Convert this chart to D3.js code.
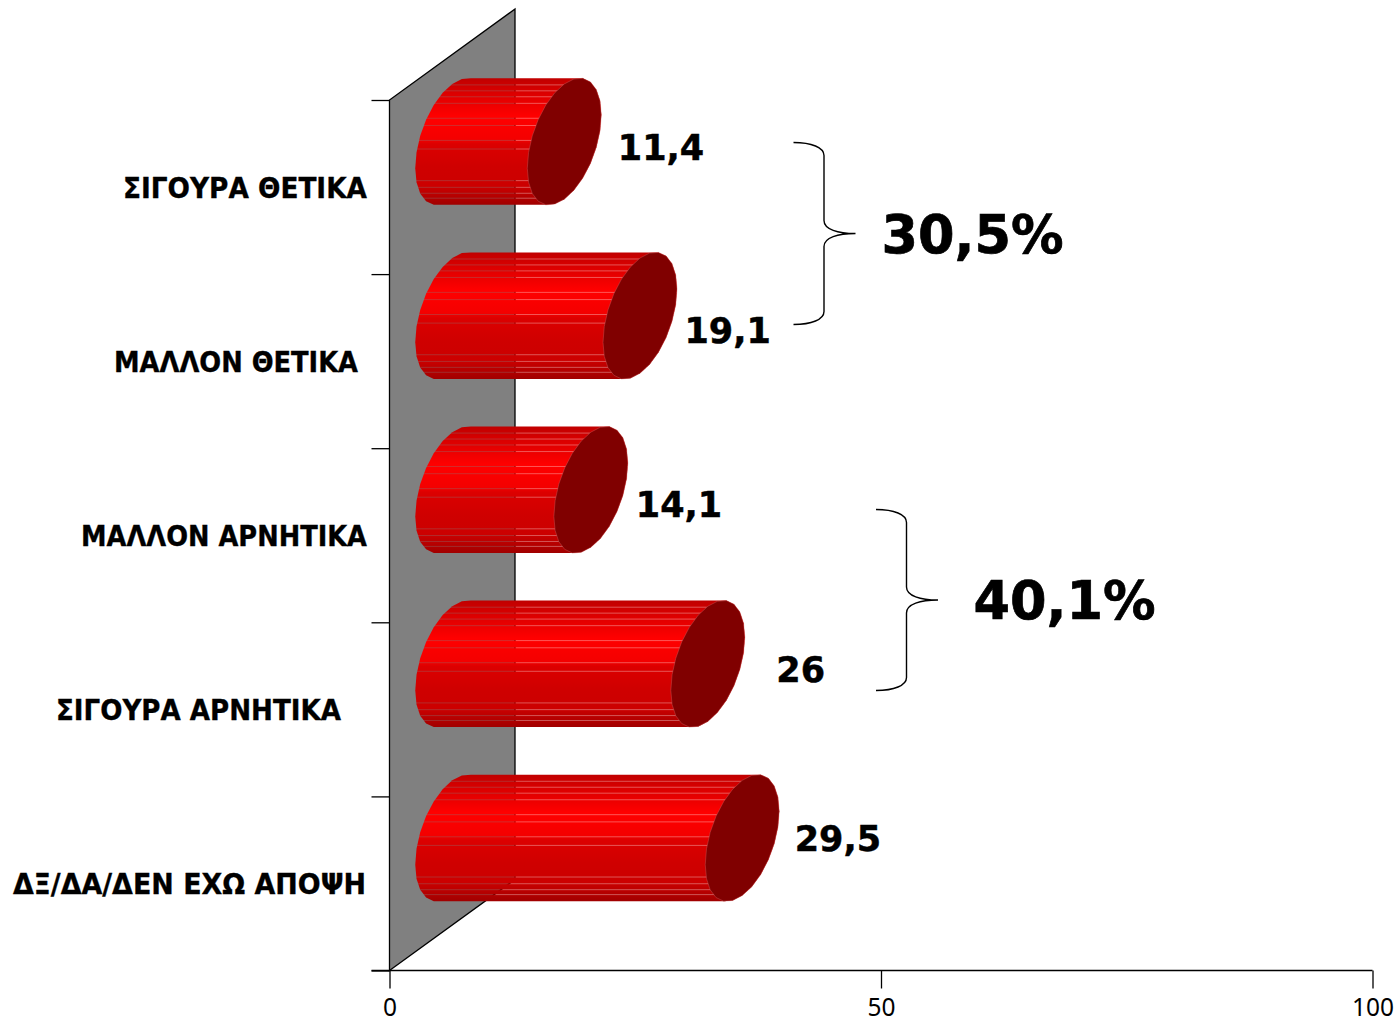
<!DOCTYPE html>
<html><head><meta charset="utf-8">
<script src="https://cdn.jsdelivr.net/npm/d3@7"></script>
<style>html,body{margin:0;padding:0;background:#fff}svg{display:block;font-family:"DejaVu Sans",sans-serif}</style>
</head><body><svg id="c" width="1396" height="1019"></svg>
<script>
const categories = ["ΣΙΓΟΥΡΑ ΘΕΤΙΚΑ","ΜΑΛΛΟΝ ΘΕΤΙΚΑ","ΜΑΛΛΟΝ ΑΡΝΗΤΙΚΑ","ΣΙΓΟΥΡΑ ΑΡΝΗΤΙΚΑ","ΔΞ/ΔΑ/ΔΕΝ ΕΧΩ ΑΠΟΨΗ"];
const values = [11.4,19.1,14.1,26,29.5];
const valueLabels = ["11,4","19,1","14,1","26","29,5"];
const xTicks = [0,50,100];
const groupLabels = ["30,5%","40,1%"];

const svg = d3.select("#c");
const defs = svg.append("defs");
const x = d3.scaleLinear().domain([0,100]).range([389.5,1372.5]);
const y = d3.scaleBand().domain(categories).range([100,970.5]);
const depth = {dx:125.5, dy:-91};
const ticksY = d3.scaleLinear().domain([0,5]).range([100,970.5]);
const y0 = y.range()[0], y1 = y.range()[1];

// wall
svg.append("path").attr("fill","#808080").attr("stroke","#000").attr("stroke-width",1.3)
  .attr("d",d3.line()([[x(0),y1],[x(0),y0],[x(0)+depth.dx,y0+depth.dy],[x(0)+depth.dx,y1+depth.dy]])+"Z");

// axes
const gx = svg.append("g").attr("transform",`translate(0,${y1})`)
  .call(d3.axisBottom(x).tickValues(xTicks).tickSize(18).tickPadding(10));
gx.selectAll("text").attr("font-size",24.5).attr("font-family","Noto Sans").attr("fill","#000");
gx.select(".domain").attr("d",`M${x(0)-18},0H${x(100)}`).attr("stroke-width",1.3);
gx.selectAll("line").attr("stroke-width",1.3);
const gy = svg.append("g").attr("transform",`translate(${x(0)},0)`)
  .call(d3.axisLeft(ticksY).ticks(5).tickSize(18).tickFormat(""));
gy.select(".domain").remove();
gy.selectAll("line").attr("stroke-width",1.3);

// category labels
const labelStart = [123,114,81,56,13];
const labelWidth = [244,244,286,285,353];
svg.append("g").selectAll("text").data(categories).join("text")
  .attr("x",(d,i)=>labelStart[i]).attr("y",d=>y(d)+y.bandwidth()/2+11)
  .attr("textLength",(d,i)=>labelWidth[i]).attr("lengthAdjust","spacingAndGlyphs")
  .attr("font-weight","bold").attr("font-size",27.5).attr("stroke","#000").attr("stroke-width",.35).text(d=>d);

// gradient
const grad = defs.append("linearGradient").attr("id","cyl").attr("x1",0).attr("x2",0).attr("y1",0).attr("y2",1);
[[0,"#c00000"],[.1,"#d80000"],[.3,"#ff0000"],[.48,"#f40000"],[.52,"#dc0000"],[.7,"#cf0000"],[.85,"#cc0000"],[.95,"#b00000"],[1,"#a00000"]]
 .forEach(s=>grad.append("stop").attr("offset",s[0]).attr("stop-color",s[1]));

// cylinders
const halfH = 57.6, halfDx = 37, halfDy = -26.7;
const stripeFracs = [.052,.099,.146,.198,.316,.373,.491,.559,.809,.862,.909,.948];
const labelOffsets = [[16.5,5.5],[7.5,14.5],[8,14.5],[31.5,5.5],[15.5,.5]];
function ring(cx,cy){
  return d3.range(24).map(i=>{const t=i/24*2*Math.PI;
    return [cx+halfDx*Math.cos(t), cy+halfDy*Math.cos(t)+halfH*Math.sin(t)];});
}
const bars = svg.append("g");
values.forEach((v,i)=>{
  const cy = y(categories[i])+y.bandwidth()/2+depth.dy/2;
  const cx0 = x(0)+depth.dx/2, cx1 = x(v)+depth.dx/2;
  const hull = d3.polygonHull(ring(cx0,cy).concat(ring(cx1,cy)));
  const hullPath = d3.line()(hull)+"Z";
  const ys = hull.map(p=>p[1]), top=d3.min(ys), bot=d3.max(ys);
  const m = defs.append("mask").attr("id","m"+i).attr("maskUnits","userSpaceOnUse")
    .attr("x",cx0-60).attr("y",top-5).attr("width",cx1-cx0+120).attr("height",bot-top+10);
  m.append("rect").attr("x",cx0-60).attr("y",top-5).attr("width",cx1-cx0+120).attr("height",bot-top+10).attr("fill","#fff");
  m.selectAll("line").data(stripeFracs).join("line")
    .attr("x1",cx0-60).attr("x2",cx1+60)
    .attr("y1",f=>top+f*(bot-top)).attr("y2",f=>top+f*(bot-top))
    .attr("stroke","#aaa").attr("stroke-width",1);
  const g = bars.append("g");
  g.append("path").attr("d",hullPath).attr("fill","url(#cyl)").attr("mask",`url(#m${i})`);
  g.append("path").attr("d",d3.line()(ring(cx1,cy))+"Z").attr("fill","#800000").attr("stroke","#d06060").attr("stroke-width",.4);
  svg.append("text").attr("x",cx1+halfDx+labelOffsets[i][0]).attr("y",cy+labelOffsets[i][1]+12.5)
    .attr("font-weight","bold").attr("font-size",35).attr("stroke","#000").attr("stroke-width",.5).text(valueLabels[i]);
});

// braces
const braceX = [793.5,876], groupLabelX = [881.5,973.5];
function brace(x0,yA,yB){
  const ym=(yA+yB)/2, xs=x0+30.5, xt=x0+62, r=13;
  return `M${x0},${yA}C${x0+18},${yA} ${xs},${yA+5} ${xs},${yA+r}`+
    `V${ym-r}C${xs},${ym-4} ${xs+14},${ym} ${xt},${ym}`+
    `C${xs+14},${ym} ${xs},${ym+4} ${xs},${ym+r}`+
    `V${yB-r}C${xs},${yB-5} ${x0+18},${yB} ${x0},${yB}`;
}
const braces = [{yA:142.5,yB:324.5},{yA:509.5,yB:690.5}];
groupLabels.forEach((t,i)=>{
  svg.append("path").attr("d",brace(braceX[i],braces[i].yA,braces[i].yB)).attr("fill","none").attr("stroke","#000").attr("stroke-width",1.4);
  svg.append("text").attr("x",groupLabelX[i]).attr("y",(braces[i].yA+braces[i].yB)/2+19)
    .attr("font-weight","bold").attr("font-size",52.5).attr("stroke","#000").attr("stroke-width",.7).text(t);
});
</script></body></html>
